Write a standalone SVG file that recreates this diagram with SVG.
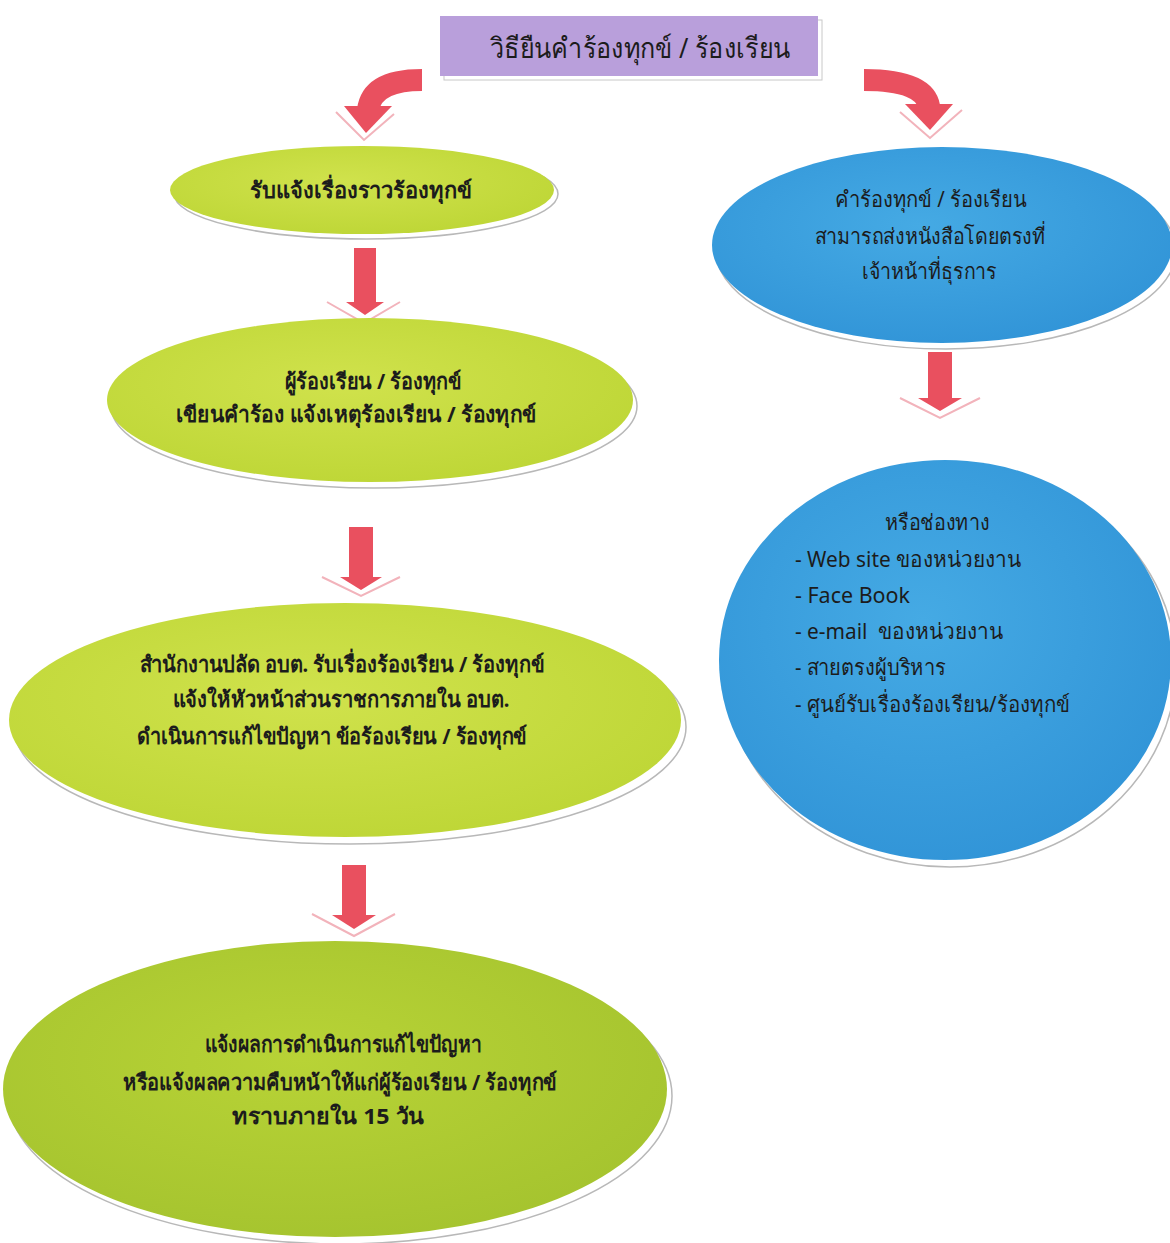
<svg xmlns="http://www.w3.org/2000/svg" width="1170" height="1243" viewBox="0 0 1170 1243">
<defs>
<style>
.t{font-family:"Noto Sans","DejaVu Sans",sans-serif;fill:#1c1c1c;text-anchor:middle;font-weight:bold;}
.tn{font-family:"Noto Sans","DejaVu Sans",sans-serif;fill:#1c1c1c;text-anchor:middle;font-weight:normal;}
.l{font-family:"Noto Sans","DejaVu Sans",sans-serif;fill:#1c1c1c;font-weight:normal;}
.shadow{fill:#ffffff;stroke:#b8b8b8;stroke-width:1.5;}
.arr{fill:#e9505f;}
.band{fill:none;stroke:#e9505f;stroke-width:22;}
.ghost{fill:none;stroke:#f2b3bb;stroke-width:2;}
</style>
<radialGradient id="g1" cx="0.45" cy="0.4" r="0.7"><stop offset="0" stop-color="#d0e24c"/><stop offset="1" stop-color="#bcd534"/></radialGradient>
<radialGradient id="g2" cx="0.45" cy="0.4" r="0.7"><stop offset="0" stop-color="#b8d336"/><stop offset="1" stop-color="#a3c22e"/></radialGradient>
<radialGradient id="b1" cx="0.45" cy="0.4" r="0.7"><stop offset="0" stop-color="#45aae4"/><stop offset="1" stop-color="#2f92d6"/></radialGradient>
</defs>
<rect width="1170" height="1243" fill="#ffffff"/>

<g id="connectors">
  <path class="band" d="M422,80 Q372,80 368,110"/>
  <polygon class="arr" points="344,106 392,106 366,133"/>
  <path class="ghost" d="M336,112 L364,140 L394,114"/>
  <path class="band" d="M864,80 Q924,80 929,106"/>
  <polygon class="arr" points="905,104 953,104 930,130"/>
  <path class="ghost" d="M900,112 L930,138 L962,110"/>

  <rect class="arr" x="354" y="248" width="22" height="56"/>
  <polygon class="arr" points="346,302 384,302 365,315"/>
  <path class="ghost" d="M327,302 L364,323 L400,302"/>

  <rect class="arr" x="349" y="527" width="24" height="52"/>
  <polygon class="arr" points="340,577 382,577 361,590"/>
  <path class="ghost" d="M322,577 L361,596 L400,577"/>

  <rect class="arr" x="342" y="865" width="24" height="52"/>
  <polygon class="arr" points="332,915 376,915 354,929"/>
  <path class="ghost" d="M312,914 L354,936 L395,914"/>

  <rect class="arr" x="928" y="352" width="24" height="48"/>
  <polygon class="arr" points="918,398 962,398 940,411"/>
  <path class="ghost" d="M900,398 L940,418 L980,398"/>
</g>

<g id="title">
  <rect x="444" y="20" width="378" height="60" fill="#ffffff" stroke="#c8c8c8"/>
  <rect x="440" y="16" width="378" height="60" fill="#b99fdb"/>
  <text class="tn" x="640" y="58" font-size="28" textLength="300" lengthAdjust="spacingAndGlyphs">วิธียืนคำร้องทุกข์ / ร้องเรียน</text>
</g>

<g id="n1">
  <ellipse class="shadow" cx="366" cy="194" rx="192" ry="45"/>
  <ellipse cx="362" cy="190" rx="192" ry="44" fill="url(#g1)"/>
  <text class="t" x="361" y="198" font-size="22" textLength="222" lengthAdjust="spacingAndGlyphs">รับแจ้งเรื่องราวร้องทุกข์</text>
</g>

<g id="n2">
  <ellipse class="shadow" cx="374" cy="406" rx="263" ry="82"/>
  <ellipse cx="370" cy="400" rx="263" ry="82" fill="url(#g1)"/>
  <text class="t" x="373" y="389" font-size="22" textLength="177" lengthAdjust="spacingAndGlyphs">ผู้ร้องเรียน / ร้องทุกข์</text>
  <text class="t" x="356" y="422" font-size="22" textLength="361" lengthAdjust="spacingAndGlyphs">เขียนคำร้อง แจ้งเหตุร้องเรียน / ร้องทุกข์</text>
</g>

<g id="n3">
  <ellipse class="shadow" cx="350" cy="727" rx="336" ry="117"/>
  <ellipse cx="345" cy="720" rx="336" ry="117" fill="url(#g1)"/>
  <text class="t" x="342" y="672" font-size="22" textLength="405" lengthAdjust="spacingAndGlyphs">สำนักงานปลัด อบต. รับเรื่องร้องเรียน / ร้องทุกข์</text>
  <text class="t" x="341" y="707" font-size="22" textLength="337" lengthAdjust="spacingAndGlyphs">แจ้งให้หัวหน้าส่วนราชการภายใน อบต.</text>
  <text class="t" x="332" y="744" font-size="22" textLength="390" lengthAdjust="spacingAndGlyphs">ดำเนินการแก้ไขปัญหา ข้อร้องเรียน / ร้องทุกข์</text>
</g>

<g id="n4">
  <ellipse class="shadow" cx="340" cy="1096" rx="332" ry="148"/>
  <ellipse cx="335" cy="1089" rx="332" ry="148" fill="url(#g2)"/>
  <text class="t" x="343" y="1052" font-size="22" textLength="277" lengthAdjust="spacingAndGlyphs">แจ้งผลการดำเนินการแก้ไขปัญหา</text>
  <text class="t" x="340" y="1090" font-size="22" textLength="434" lengthAdjust="spacingAndGlyphs">หรือแจ้งผลความคืบหน้าให้แก่ผู้ร้องเรียน / ร้องทุกข์</text>
  <text class="t" x="328" y="1124" font-size="22" textLength="192" lengthAdjust="spacingAndGlyphs">ทราบภายใน 15 วัน</text>
</g>

<g id="n5">
  <ellipse class="shadow" cx="946" cy="251" rx="230" ry="98"/>
  <ellipse cx="942" cy="245" rx="230" ry="98" fill="url(#b1)"/>
  <text class="tn" x="931" y="207" font-size="22" textLength="192" lengthAdjust="spacingAndGlyphs">คำร้องทุกข์ / ร้องเรียน</text>
  <text class="tn" x="930" y="244" font-size="22" textLength="231" lengthAdjust="spacingAndGlyphs">สามารถส่งหนังสือโดยตรงที่</text>
  <text class="tn" x="929" y="279" font-size="22" textLength="135" lengthAdjust="spacingAndGlyphs">เจ้าหน้าที่ธุรการ</text>
</g>

<g id="n6">
  <ellipse class="shadow" cx="950" cy="667" rx="226" ry="200"/>
  <ellipse cx="945" cy="660" rx="226" ry="200" fill="url(#b1)"/>
  <text class="tn" x="937" y="530" font-size="22" textLength="105" lengthAdjust="spacingAndGlyphs">หรือช่องทาง</text>
  <text class="l" x="795" y="567" font-size="22" textLength="226" lengthAdjust="spacingAndGlyphs">- Web site ของหน่วยงาน</text>
  <text class="l" x="795" y="603" font-size="22" textLength="115" lengthAdjust="spacingAndGlyphs">- Face Book</text>
  <text class="l" x="795" y="639" font-size="22" textLength="208" lengthAdjust="spacingAndGlyphs" xml:space="preserve">- e-mail  ของหน่วยงาน</text>
  <text class="l" x="795" y="675" font-size="22" textLength="151" lengthAdjust="spacingAndGlyphs">- สายตรงผู้บริหาร</text>
  <text class="l" x="795" y="712" font-size="22" textLength="275" lengthAdjust="spacingAndGlyphs">- ศูนย์รับเรื่องร้องเรียน/ร้องทุกข์</text>
</g>
</svg>
